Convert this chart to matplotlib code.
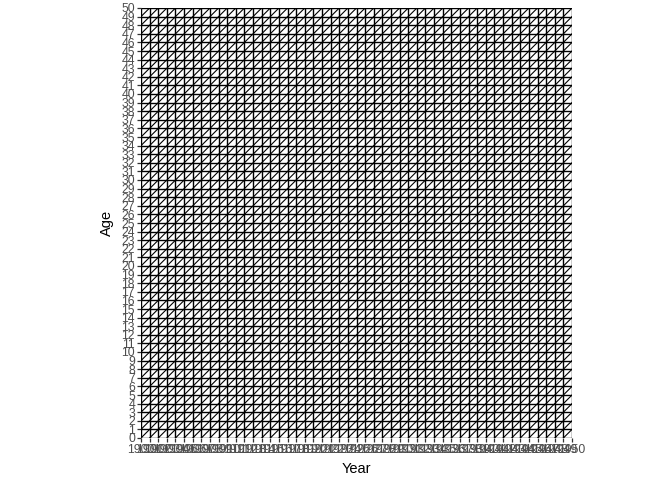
import numpy as np
import matplotlib.pyplot as plt

years = list(range(1900, 1951))
ages = list(range(0, 51))
cohorts = list(range(1850, 1950))

plt.rcParams['font.family'] = ['Liberation Sans', 'DejaVu Sans']

fig = plt.figure(figsize=(6.72, 4.8), dpi=100)
ax = fig.add_axes([141/672, 42/480, 431/672, 430/480])

ax.vlines(years, ages[0], ages[-1], color="black", linewidth=1.0)
ax.hlines(ages, years[0], years[-1], color="black", linewidth=1.0)

# cohort lines, clipped to the diagram
for c in cohorts:
    x0 = max(c, years[0])
    x1 = min(c + ages[-1], years[-1])
    if x1 <= x0:
        continue
    ax.plot([x0, x1], [x0 - c, x1 - c], color="black", linewidth=0.8)

ax.set_xlim(years[0], years[-1])
ax.set_ylim(ages[0], ages[-1])
ax.set_xticks(years)
ax.set_yticks(ages)
ax.set_xticklabels([str(y) for y in years])
ax.set_yticklabels([str(a) for a in ages])
ax.tick_params(length=2.8, width=0.9, color="#333333", labelcolor="#4D4D4D",
               labelsize=8.8, pad=1.5)
for s in ax.spines.values():
    s.set_visible(False)

ax.set_xlabel("Year", fontsize=10.5, labelpad=4)
ax.set_ylabel("Age", fontsize=10.5, labelpad=5)

fig.savefig("out.png", dpi=100)
